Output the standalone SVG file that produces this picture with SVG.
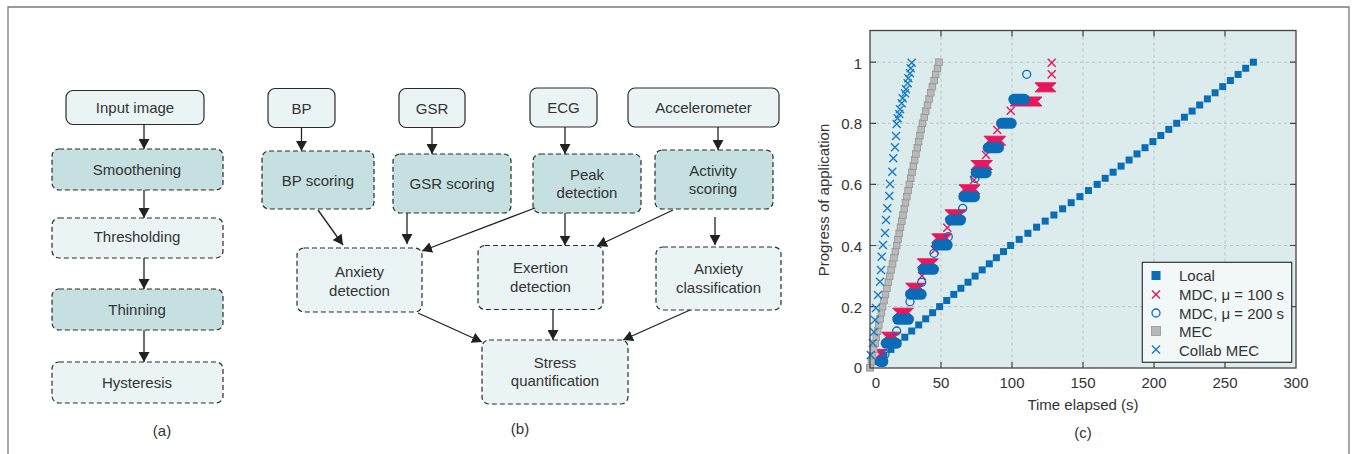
<svg xmlns="http://www.w3.org/2000/svg" xmlns:xlink="http://www.w3.org/1999/xlink" width="1360" height="454" viewBox="0 0 1360 454">
<style>
.frame{fill:none;stroke:#7a7a7a;stroke-width:1.3}
.solid{fill:#eaf4f5;stroke:#2b2b2b;stroke-width:1.2}
.dl{fill:#eaf4f5;stroke:#2b2b2b;stroke-width:1.2;stroke-dasharray:5 3}
.dt{fill:#c6e0e2;stroke:#2b2b2b;stroke-width:1.2;stroke-dasharray:5 3}
text{font-family:'Liberation Sans',Arial,sans-serif;font-size:15px;fill:#333}
.c{text-anchor:middle}
.e{text-anchor:end}
.conn{stroke:#222;stroke-width:1.3;fill:none;marker-end:url(#ah)}
.grid{stroke:#b9c4c4;stroke-width:1;stroke-dasharray:3 3;fill:none}
.tick{stroke:#444;stroke-width:1.2}
.pill{fill:#0a6bb8}
.bow{fill:#e8175d;stroke:#e8175d;stroke-width:1}
</style>
<defs>
<marker id="ah" markerWidth="10" markerHeight="11" refX="10" refY="5.5" orient="auto" markerUnits="userSpaceOnUse"><path d="M0,0 L10,5.5 L0,11 z" fill="#222"/></marker>
<rect id="sq" x="-3.5" y="-3.5" width="7" height="7" fill="#0b6db5"/>
<rect id="gsq" x="-3.3" y="-3.3" width="6.6" height="6.6" fill="#b9b9b9" stroke="#939393" stroke-width="0.8"/>
<path id="bx" d="M-4,-4L4,4M-4,4L4,-4" stroke="#1a7cc4" stroke-width="1.4" fill="none"/>
<path id="rx" d="M-4,-4L4,4M-4,4L4,-4" stroke="#e8175d" stroke-width="1.4" fill="none"/>
<circle id="oc" r="4" fill="none" stroke="#0a6bb8" stroke-width="1.3"/>
</defs>
<rect width="1360" height="454" fill="#ffffff"/>
<path class="frame" d="M8,460 V7 H1349 V460"/>

<!-- (a) -->
<g id="a-input"><rect class="solid" x="66" y="90.5" width="138" height="34" rx="7"/><text class="c" x="135" y="113">Input image</text></g>
<g id="a-smooth"><rect class="dt" x="52" y="149" width="171" height="41" rx="7"/><text class="c" x="137" y="175">Smoothening</text></g>
<g id="a-thresh"><rect class="dl" x="52" y="218" width="171" height="40" rx="7"/><text class="c" x="137" y="242">Thresholding</text></g>
<g id="a-thin"><rect class="dt" x="52" y="289" width="171" height="41" rx="7"/><text class="c" x="137" y="315">Thinning</text></g>
<g id="a-hyst"><rect class="dl" x="52" y="362" width="171" height="41" rx="7"/><text class="c" x="137" y="388">Hysteresis</text></g>
<text id="cap-a" class="c" x="162" y="436">(a)</text>

<!-- (b) -->
<g id="b-bp"><rect class="solid" x="268" y="88.5" width="67" height="39" rx="7"/><text class="c" x="301.5" y="114">BP</text></g>
<g id="b-gsr"><rect class="solid" x="399" y="88.5" width="66" height="39" rx="7"/><text class="c" x="432" y="114">GSR</text></g>
<g id="b-ecg"><rect class="solid" x="530" y="88" width="67" height="39" rx="7"/><text class="c" x="563.5" y="113">ECG</text></g>
<g id="b-acc"><rect class="solid" x="628" y="88" width="151" height="39" rx="7"/><text class="c" x="703.5" y="113">Accelerometer</text></g>
<g id="b-bpsc"><rect class="dt" x="262" y="151" width="112" height="58" rx="7"/><text class="c" x="318" y="186">BP scoring</text></g>
<g id="b-gsrsc"><rect class="dt" x="393" y="154" width="118" height="59" rx="7"/><text class="c" x="452" y="189">GSR scoring</text></g>
<g id="b-peak"><rect class="dt" x="533" y="154" width="108" height="59" rx="7"/><text class="c" x="587" y="180">Peak</text><text class="c" x="587" y="198">detection</text></g>
<g id="b-act"><rect class="dt" x="655" y="150" width="118" height="59" rx="7"/><text class="c" x="713" y="176">Activity</text><text class="c" x="713" y="194">scoring</text></g>
<g id="b-anxdet"><rect class="dl" x="297" y="248" width="125" height="64" rx="7"/><text class="c" x="359.5" y="277">Anxiety</text><text class="c" x="359.5" y="296">detection</text></g>
<g id="b-exert"><rect class="dl" x="478" y="245.5" width="125" height="64" rx="7"/><text class="c" x="540.5" y="273">Exertion</text><text class="c" x="540.5" y="292">detection</text></g>
<g id="b-anxcls"><rect class="dl" x="656" y="247" width="125" height="63" rx="7"/><text class="c" x="718.5" y="274">Anxiety</text><text class="c" x="718.5" y="293">classification</text></g>
<g id="b-stress"><rect class="dl" x="482" y="340" width="146" height="64" rx="7"/><text class="c" x="555" y="368">Stress</text><text class="c" x="555" y="386">quantification</text></g>
<text id="cap-b" class="c" x="520" y="434">(b)</text>

<g id="connectors">
<line class="conn" x1="144" y1="124.5" x2="144" y2="149"/>
<line class="conn" x1="144" y1="190" x2="144" y2="218"/>
<line class="conn" x1="144" y1="258" x2="144" y2="289"/>
<line class="conn" x1="144" y1="330" x2="144" y2="362"/>
<line class="conn" x1="301.5" y1="127.5" x2="301.5" y2="151"/>
<line class="conn" x1="432" y1="127.5" x2="432" y2="154"/>
<line class="conn" x1="565" y1="127" x2="565" y2="154"/>
<line class="conn" x1="718" y1="127" x2="718" y2="150"/>
<line class="conn" x1="318" y1="210" x2="343" y2="245"/>
<line class="conn" x1="407" y1="213" x2="407" y2="244"/>
<line class="conn" x1="535" y1="208" x2="422" y2="251"/>
<line class="conn" x1="565" y1="213" x2="565" y2="245.5"/>
<line class="conn" x1="673" y1="210" x2="597" y2="246"/>
<line class="conn" x1="715" y1="217" x2="715" y2="245"/>
<line class="conn" x1="418" y1="313" x2="482" y2="342"/>
<line class="conn" x1="553" y1="309.5" x2="553" y2="340"/>
<line class="conn" x1="690" y1="310" x2="623" y2="340"/>
</g>

<!-- (c) chart -->
<g id="chart">
<rect x="870" y="30.5" width="426" height="337.5" fill="#dcecec"/>
<path class="grid" d="M941,30.5V368M1012,30.5V368M1083,30.5V368M1154,30.5V368M1225,30.5V368M870,306.6H1296M870,245.5H1296M870,184.4H1296M870,123.3H1296M870,62.2H1296"/>
<path class="tick" d="M941,368v-6M1012,368v-6M1083,368v-6M1154,368v-6M1225,368v-6M941,30.5v6M1012,30.5v6M1083,30.5v6M1154,30.5v6M1225,30.5v6M870,306.6h6M870,245.5h6M870,184.4h6M870,123.3h6M870,62.2h6M1296,306.6h-6M1296,245.5h-6M1296,184.4h-6M1296,123.3h-6M1296,62.2h-6"/>

<g id="s-local">
<use href="#sq" x="870" y="367.7"/><use href="#sq" x="877" y="361.6"/><use href="#sq" x="883.9" y="355.5"/><use href="#sq" x="890.9" y="349.4"/><use href="#sq" x="897.8" y="343.3"/><use href="#sq" x="904.8" y="337.2"/><use href="#sq" x="911.7" y="331"/><use href="#sq" x="918.7" y="324.9"/><use href="#sq" x="925.7" y="318.8"/><use href="#sq" x="932.6" y="312.7"/><use href="#sq" x="939.6" y="306.6"/><use href="#sq" x="946.7" y="300.5"/><use href="#sq" x="953.8" y="294.4"/><use href="#sq" x="960.9" y="288.3"/><use href="#sq" x="968" y="282.2"/><use href="#sq" x="975.1" y="276.1"/><use href="#sq" x="982.2" y="269.9"/><use href="#sq" x="989.3" y="263.8"/><use href="#sq" x="996.4" y="257.7"/><use href="#sq" x="1003.5" y="251.6"/><use href="#sq" x="1010.6" y="245.5"/><use href="#sq" x="1019.2" y="239.4"/><use href="#sq" x="1027.9" y="233.3"/><use href="#sq" x="1036.6" y="227.2"/><use href="#sq" x="1045.2" y="221.1"/><use href="#sq" x="1053.9" y="215"/><use href="#sq" x="1062.6" y="208.8"/><use href="#sq" x="1071.2" y="202.7"/><use href="#sq" x="1079.9" y="196.6"/><use href="#sq" x="1088.5" y="190.5"/><use href="#sq" x="1097.2" y="184.4"/><use href="#sq" x="1105.2" y="178.3"/><use href="#sq" x="1113.1" y="172.2"/><use href="#sq" x="1121.1" y="166.1"/><use href="#sq" x="1129.1" y="160"/><use href="#sq" x="1137" y="153.9"/><use href="#sq" x="1145" y="147.7"/><use href="#sq" x="1152.9" y="141.6"/><use href="#sq" x="1160.8" y="135.5"/><use href="#sq" x="1168.8" y="129.4"/><use href="#sq" x="1176.7" y="123.3"/><use href="#sq" x="1184.4" y="117.2"/><use href="#sq" x="1192.1" y="111.1"/><use href="#sq" x="1199.7" y="105"/><use href="#sq" x="1207.4" y="98.9"/><use href="#sq" x="1215.1" y="92.8"/><use href="#sq" x="1222.7" y="86.6"/><use href="#sq" x="1230.4" y="80.5"/><use href="#sq" x="1238.1" y="74.4"/><use href="#sq" x="1245.7" y="68.3"/><use href="#sq" x="1253.4" y="62.2"/>
</g>

<g id="s-mdc100">
<polygon class="bow" points="875,349.5 887,349.5 882.5,354 887,358.5 875,358.5 879.5,354"/>
<polygon class="bow" points="881.7,332.2 900,332.2 895.5,336.7 900,341.2 881.7,341.2 886.2,336.7"/>
<polygon class="bow" points="892.7,308.2 913.3,308.2 908.8,312.7 913.3,317.2 892.7,317.2 897.2,312.7"/>
<polygon class="bow" points="905.7,283.2 925,283.2 920.5,287.7 925,292.2 905.7,292.2 910.2,287.7"/>
<polygon class="bow" points="917.3,258.8 938.3,258.8 933.8,263.3 938.3,267.8 917.3,267.8 921.8,263.3"/>
<polygon class="bow" points="931.7,233.8 951.7,233.8 947.2,238.3 951.7,242.8 931.7,242.8 936.2,238.3"/>
<polygon class="bow" points="945,209.8 966,209.8 961.5,214.3 966,218.8 945,218.8 949.5,214.3"/>
<polygon class="bow" points="959,184.8 980,184.8 975.5,189.3 980,193.8 959,193.8 963.5,189.3"/>
<polygon class="bow" points="971,160.5 992.3,160.5 987.8,165 992.3,169.5 971,169.5 975.5,165"/>
<polygon class="bow" points="984,136.2 1005.7,136.2 1001.2,140.7 1005.7,145.2 984,145.2 988.5,140.7"/>
<polygon class="bow" points="1010,97 1042,97 1037.5,101.5 1042,106 1010,106 1014.5,101.5"/>
<polygon class="bow" points="1035,82.8 1056,82.8 1051.5,87.3 1056,91.8 1035,91.8 1039.5,87.3"/>
<use href="#rx" x="1051.7" y="62.7"/><use href="#rx" x="1051.7" y="74.3"/><use href="#rx" x="1010.7" y="110.7"/><use href="#rx" x="997.3" y="130"/><use href="#rx" x="986" y="155"/><use href="#rx" x="974" y="180"/><use href="#rx" x="947.3" y="227.7"/><use href="#rx" x="935" y="250"/><use href="#rx" x="922" y="276"/>
</g>

<g id="s-mdc200">
<rect class="pill" x="875" y="356" width="13.3" height="11" rx="5.5"/>
<rect class="pill" x="880.7" y="337.8" width="21" height="11" rx="5.5"/>
<rect class="pill" x="892.3" y="313.8" width="21.7" height="11" rx="5.5"/>
<rect class="pill" x="905" y="288.8" width="21.7" height="11" rx="5.5"/>
<rect class="pill" x="917.7" y="263.8" width="21.3" height="11" rx="5.5"/>
<rect class="pill" x="931.7" y="239.5" width="21" height="11" rx="5.5"/>
<rect class="pill" x="945" y="214.5" width="21" height="11" rx="5.5"/>
<rect class="pill" x="958.3" y="191.2" width="21.7" height="11" rx="5.5"/>
<rect class="pill" x="970.7" y="167.2" width="21" height="11" rx="5.5"/>
<rect class="pill" x="982.7" y="142.2" width="21.3" height="11" rx="5.5"/>
<rect class="pill" x="996" y="117.8" width="20.7" height="11" rx="5.5"/>
<rect class="pill" x="1008.3" y="93.8" width="21.7" height="11" rx="5.5"/>
<use href="#oc" x="1026.7" y="74.3"/><use href="#oc" x="975" y="178.3"/><use href="#oc" x="962.7" y="208.3"/><use href="#oc" x="948.3" y="236.7"/><use href="#oc" x="934" y="253.3"/><use href="#oc" x="921.7" y="282.3"/><use href="#oc" x="910" y="301.7"/><use href="#oc" x="896.7" y="331"/><use href="#oc" x="885" y="354.3"/>
</g>

<g id="s-mec">
<use href="#gsq" x="870" y="367.7"/><use href="#gsq" x="871.3" y="361.6"/><use href="#gsq" x="872.5" y="355.5"/><use href="#gsq" x="873.8" y="349.4"/><use href="#gsq" x="875.1" y="343.3"/><use href="#gsq" x="876.3" y="337.2"/><use href="#gsq" x="877.6" y="331"/><use href="#gsq" x="878.8" y="324.9"/><use href="#gsq" x="880.1" y="318.8"/><use href="#gsq" x="881.4" y="312.7"/><use href="#gsq" x="882.6" y="306.6"/><use href="#gsq" x="884" y="300.5"/><use href="#gsq" x="885.5" y="294.4"/><use href="#gsq" x="886.9" y="288.3"/><use href="#gsq" x="888.3" y="282.2"/><use href="#gsq" x="889.7" y="276.1"/><use href="#gsq" x="891.1" y="269.9"/><use href="#gsq" x="892.5" y="263.8"/><use href="#gsq" x="893.9" y="257.7"/><use href="#gsq" x="895.3" y="251.6"/><use href="#gsq" x="896.7" y="245.5"/><use href="#gsq" x="898" y="239.4"/><use href="#gsq" x="899.2" y="233.3"/><use href="#gsq" x="900.5" y="227.2"/><use href="#gsq" x="901.8" y="221.1"/><use href="#gsq" x="903" y="215"/><use href="#gsq" x="904.3" y="208.8"/><use href="#gsq" x="905.5" y="202.7"/><use href="#gsq" x="906.8" y="196.6"/><use href="#gsq" x="908.1" y="190.5"/><use href="#gsq" x="909.3" y="184.4"/><use href="#gsq" x="910.7" y="178.3"/><use href="#gsq" x="912" y="172.2"/><use href="#gsq" x="913.3" y="166.1"/><use href="#gsq" x="914.6" y="160"/><use href="#gsq" x="915.9" y="153.9"/><use href="#gsq" x="917.3" y="147.7"/><use href="#gsq" x="918.6" y="141.6"/><use href="#gsq" x="919.9" y="135.5"/><use href="#gsq" x="921.2" y="129.4"/><use href="#gsq" x="922.5" y="123.3"/><use href="#gsq" x="924.2" y="117.2"/><use href="#gsq" x="925.8" y="111.1"/><use href="#gsq" x="927.5" y="105"/><use href="#gsq" x="929.1" y="98.9"/><use href="#gsq" x="930.8" y="92.8"/><use href="#gsq" x="932.4" y="86.6"/><use href="#gsq" x="934.1" y="80.5"/><use href="#gsq" x="935.7" y="74.4"/><use href="#gsq" x="937.4" y="68.3"/><use href="#gsq" x="939" y="62.2"/>
</g>

<g id="s-collab">
<use href="#bx" x="870.7" y="355"/><use href="#bx" x="872.7" y="343"/><use href="#bx" x="874" y="332"/><use href="#bx" x="875" y="320"/><use href="#bx" x="876" y="308"/><use href="#bx" x="878" y="295"/><use href="#bx" x="880" y="281.7"/><use href="#bx" x="881" y="270"/><use href="#bx" x="881.7" y="256.7"/><use href="#bx" x="883" y="245"/><use href="#bx" x="885" y="233"/><use href="#bx" x="886" y="220"/><use href="#bx" x="887.3" y="208.3"/><use href="#bx" x="889.3" y="196"/><use href="#bx" x="890" y="184"/><use href="#bx" x="892.3" y="171.7"/><use href="#bx" x="893.3" y="158.3"/><use href="#bx" x="895" y="147.3"/><use href="#bx" x="896" y="136"/><use href="#bx" x="896.7" y="124"/><use href="#bx" x="897.7" y="118.3"/><use href="#bx" x="899.3" y="114"/><use href="#bx" x="900" y="109.3"/><use href="#bx" x="901.7" y="103.3"/><use href="#bx" x="902.7" y="98.3"/><use href="#bx" x="905" y="93.3"/><use href="#bx" x="906" y="89.3"/><use href="#bx" x="907.7" y="83.3"/><use href="#bx" x="908.3" y="78.3"/><use href="#bx" x="910" y="73.3"/><use href="#bx" x="910.7" y="68.3"/><use href="#bx" x="911.7" y="62.7"/>
</g>

<rect x="870" y="30.5" width="426" height="337.5" fill="none" stroke="#444" stroke-width="1.3"/>

<g id="legend">
<rect x="1142.3" y="262.3" width="149.4" height="100" fill="#f2f8f8" stroke="#333" stroke-width="1.2"/>
<rect x="1151.5" y="271" width="9" height="9" fill="#0b6db5"/>
<use href="#rx" x="1156" y="294.5"/>
<use href="#oc" x="1156" y="313"/>
<rect x="1151.5" y="326.5" width="9" height="9" fill="#b9b9b9" stroke="#939393" stroke-width="0.8"/>
<use href="#bx" x="1156" y="349.5"/>
<text x="1179" y="281">Local</text>
<text x="1179" y="300">MDC, μ = 100 s</text>
<text x="1179" y="318.5">MDC, μ = 200 s</text>
<text x="1179" y="337">MEC</text>
<text x="1179" y="355.5">Collab MEC</text>
</g>

<g id="axis-labels">
<text class="c" x="876" y="388">0</text>
<text class="c" x="941" y="388">50</text>
<text class="c" x="1012" y="388">100</text>
<text class="c" x="1083" y="388">150</text>
<text class="c" x="1154" y="388">200</text>
<text class="c" x="1225" y="388">250</text>
<text class="c" x="1296" y="388">300</text>
<text class="e" x="862" y="372.5">0</text>
<text class="e" x="862" y="312.6">0.2</text>
<text class="e" x="862" y="251.5">0.4</text>
<text class="e" x="862" y="190.4">0.6</text>
<text class="e" x="862" y="129.3">0.8</text>
<text class="e" x="862" y="68.5">1</text>
<text class="c" x="1083" y="410">Time elapsed (s)</text>
<text class="c" transform="translate(829,200) rotate(-90)">Progress of application</text>
</g>
<text id="cap-c" class="c" x="1083" y="438">(c)</text>
</g>
</svg>
